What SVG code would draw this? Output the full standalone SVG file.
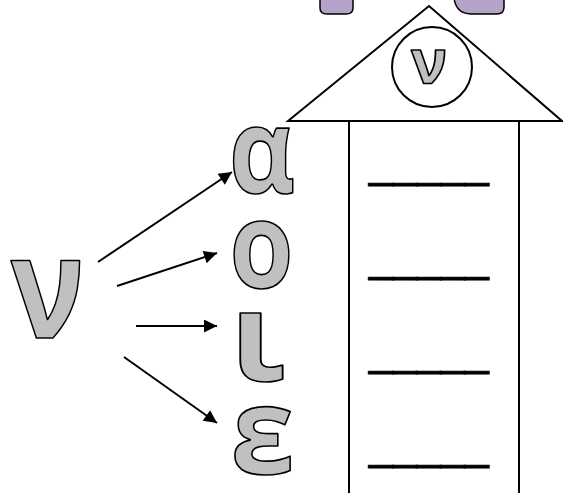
<svg xmlns="http://www.w3.org/2000/svg" width="563" height="493" viewBox="0 0 563 493">
<defs>
<style>
.ln{stroke:#000;stroke-width:2;fill:none}
.big{font-family:"Open Sans","DejaVu Sans",sans-serif;font-weight:bold;fill:#c0c0c0;stroke:#000;stroke-width:1.7;stroke-linejoin:round;text-anchor:middle}
.blank{font-family:"Liberation Sans",Arial,sans-serif;font-size:43px;fill:#000;stroke:#000;stroke-width:1}
.purple{fill:#b3a3c9;stroke:#000;stroke-width:1.5}
</style>
<marker id="ah" viewBox="0 0 10 10" refX="10" refY="5" markerWidth="7.5" markerHeight="6.5" markerUnits="strokeWidth" orient="auto">
<path d="M0,0 L10,5 L0,10 Z" fill="#000"/>
</marker>
</defs>
<rect width="563" height="493" fill="#fff"/>
<g id="title-fragments">
<path class="purple" d="M320,-2 V8 Q320,14 327,14 H346 Q353,14 353,8 V-2 Z"/>
<path class="purple" d="M454,-2 Q456,14 472,14 H497 Q504,14 504,7 V-2 Z"/>
</g>
<g id="house">
<polygon class="ln" points="288,121 429,6 562,121"/>
<line class="ln" x1="349" y1="121" x2="349" y2="493"/>
<line class="ln" x1="519" y1="121" x2="519" y2="493"/>
<circle class="ln" cx="432" cy="67" r="40"/>
<text class="big" x="429" y="83" font-size="60" textLength="36" lengthAdjust="spacingAndGlyphs">ν</text>
<text class="blank" x="369" y="177.5">_____</text>
<text class="blank" x="369" y="271.5">_____</text>
<text class="blank" x="369" y="365.5">_____</text>
<text class="blank" x="369" y="459.5">_____</text>
</g>
<g id="node-nu"><text class="big" x="47.5" y="338" font-size="142" textLength="74" lengthAdjust="spacingAndGlyphs">ν</text></g>
<g id="node-alpha"><text class="big" x="262" y="193" font-size="118" textLength="66" lengthAdjust="spacingAndGlyphs">α</text></g>
<g id="node-omicron"><text class="big" x="261.5" y="288" font-size="120" textLength="64" lengthAdjust="spacingAndGlyphs">ο</text></g>
<g id="node-iota"><text class="big" x="257.5" y="381" font-size="124" textLength="56" lengthAdjust="spacingAndGlyphs">ι</text></g>
<g id="node-epsilon"><text class="big" x="262.5" y="474" font-size="120" textLength="64" lengthAdjust="spacingAndGlyphs">ε</text></g>
<g id="connectors">
<line class="ln" x1="98" y1="262" x2="232" y2="172" marker-end="url(#ah)"/>
<line class="ln" x1="117" y1="286" x2="217" y2="253" marker-end="url(#ah)"/>
<line class="ln" x1="136" y1="326" x2="217" y2="326" marker-end="url(#ah)"/>
<line class="ln" x1="124" y1="357" x2="217" y2="423" marker-end="url(#ah)"/>
</g>
</svg>
